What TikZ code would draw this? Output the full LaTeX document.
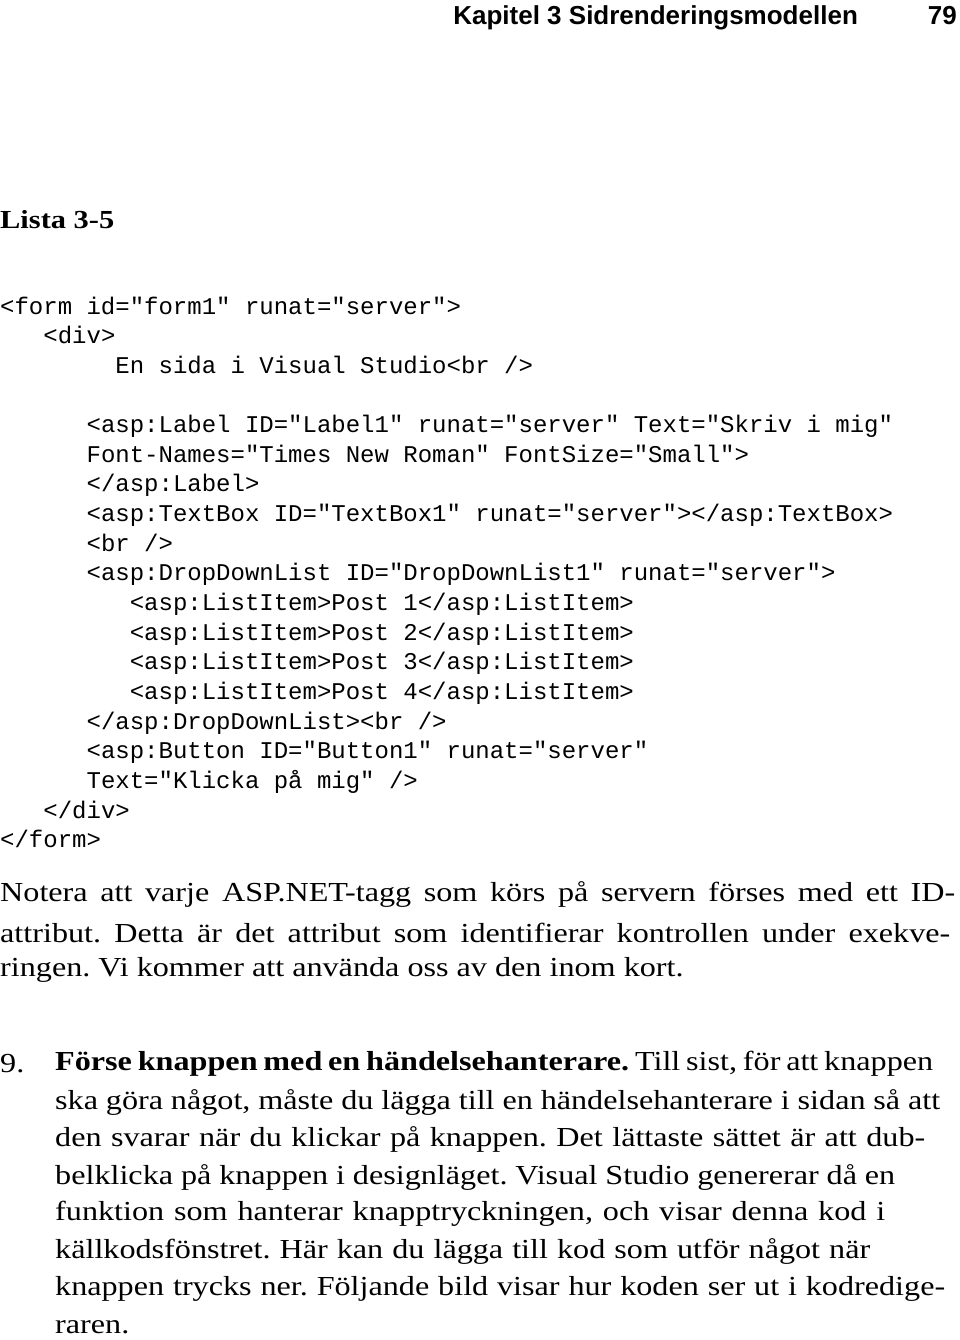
\documentclass[tikz,border=0pt]{standalone}
\usepackage{fontspec}
\setmainfont{Liberation Serif}[FakeStretch=1.17]
\newfontfamily\hd{Liberation Sans}
\newfontfamily\cd{Liberation Mono}
\frenchspacing
\begin{document}
\begin{tikzpicture}[x=1pt,y=-1pt,
  code/.style={anchor=west,inner sep=0pt,font=\cd\fontsize{24}{24}\selectfont},
  body/.style={anchor=west,inner sep=0pt,font=\fontsize{27.5}{27.5}\selectfont}]
\fill[white] (0,0) rectangle (960,1340);
\useasboundingbox (0,0) rectangle (960,1340);
\node[anchor=east,inner sep=0pt,font=\hd\bfseries\fontsize{26}{26}\selectfont] (hd) at (957,18) {Kapitel 3 Sidrenderingsmodellen\hspace{70pt}79};
\node[body,font=\bfseries\fontsize{26}{26}\selectfont] (lista) at (0,220) {Lista 3-5};
\foreach \t [count=\i] in {
{<form id="form1" runat="server">},
{\ \ \ <div>},
{\ \ \ \ \ \ \ \ En sida i Visual Studio<br />},
{},
{\ \ \ \ \ \ <asp:Label ID="Label1" runat="server" Text="Skriv i mig"},
{\ \ \ \ \ \ Font-Names="Times New Roman" FontSize="Small">},
{\ \ \ \ \ \ </asp:Label>},
{\ \ \ \ \ \ <asp:TextBox ID="TextBox1" runat="server"></asp:TextBox>},
{\ \ \ \ \ \ <br />},
{\ \ \ \ \ \ <asp:DropDownList ID="DropDownList1" runat="server">},
{\ \ \ \ \ \ \ \ \ <asp:ListItem>Post 1</asp:ListItem>},
{\ \ \ \ \ \ \ \ \ <asp:ListItem>Post 2</asp:ListItem>},
{\ \ \ \ \ \ \ \ \ <asp:ListItem>Post 3</asp:ListItem>},
{\ \ \ \ \ \ \ \ \ <asp:ListItem>Post 4</asp:ListItem>},
{\ \ \ \ \ \ </asp:DropDownList><br />},
{\ \ \ \ \ \ <asp:Button ID="Button1" runat="server"},
{\ \ \ \ \ \ Text="Klicka på mig" />},
{\ \ \ </div>},
{</form>}}
  \node[code] (c\i) at (0,{309+29.65*(\i-1)}) {\strut\t};
\def\J#1#2{\makebox[#1pt][s]{#2}}
\node[body] (n1) at (0,895) {\J{955}{Notera att varje ASP.NET-tagg som körs på servern förses med ett ID-}};
\node[body] (n2) at (0,933) {\J{950}{attribut. Detta är det attribut som identifierar kontrollen under exekve-}};
\node[body] (n3) at (0,970) {ringen. Vi kommer att använda oss av den inom kort.};
\node[body] (num) at (0,1064) {9.};
\node[body] (p1) at (55,1064) {\J{878}{\textbf{Förse knappen med en händelsehanterare.} Till sist, för att knappen}};
\node[body] (p2) at (55,1102) {\J{885}{ska göra något, måste du lägga till en händelsehanterare i sidan så att}};
\node[body] (p3) at (55,1139) {\J{870}{den svarar när du klickar på knappen. Det lättaste sättet är att dub-}};
\node[body] (p4) at (55,1177) {\J{840}{belklicka på knappen i designläget. Visual Studio genererar då en}};
\node[body] (p5) at (55,1214) {\J{830}{funktion som hanterar knapptryckningen, och visar denna kod i}};
\node[body] (p6) at (55,1251) {\J{815}{källkodsfönstret. Här kan du lägga till kod som utför något när}};
\node[body] (p7) at (55,1289) {\J{890}{knappen trycks ner. Följande bild visar hur koden ser ut i kodredige-}};
\node[body] (p8) at (55,1327) {raren.};
\end{tikzpicture}
\end{document}
